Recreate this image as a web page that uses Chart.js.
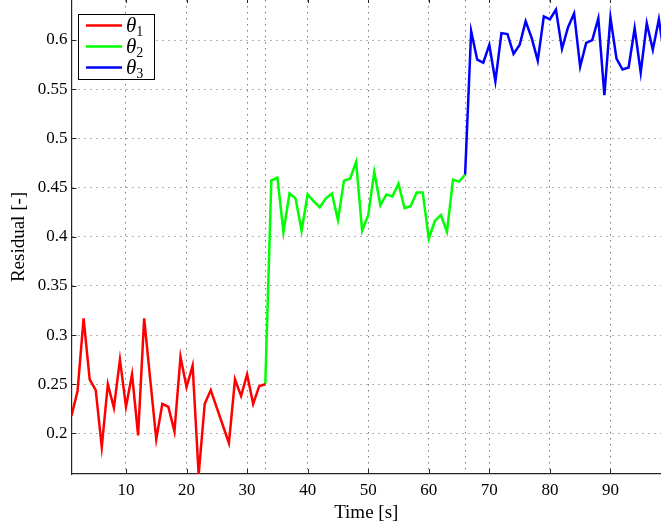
<!DOCTYPE html>
<html>
<head>
<meta charset="utf-8">
<script src="https://cdn.jsdelivr.net/npm/chart.js@4/dist/chart.umd.min.js"></script>
<style>
  html, body { margin: 0; padding: 0; background: #ffffff; }
  #wrap { width: 661px; height: 526px; }
</style>
</head>
<body>
<div id="wrap"><canvas id="c" width="661" height="526"></canvas></div>
<script>
// Residual of the three parameter phases, sampled once per second
const timeTheta1 = [1,2,3,4,5,6,7,8,9,10,11,12,13,14,15,16,17,18,19,20,21,22,23,24,25,26,27,28,29,30,31,32,33];
const residualTheta1 = [0.218,0.243,0.317,0.255,0.244,0.186,0.250,0.226,0.275,0.227,0.260,0.198,0.317,0.255,0.194,0.230,0.227,0.202,0.278,0.247,0.269,0.158,0.230,0.244,0.226,0.208,0.190,0.255,0.238,0.260,0.230,0.248,0.250];

const timeTheta2 = [33,34,35,36,37,38,39,40,41,42,43,44,45,46,47,48,49,50,51,52,53,54,55,56,57,58,59,60,61,62,63,64,65,66];
const residualTheta2 = [0.250,0.457,0.460,0.405,0.444,0.439,0.406,0.443,0.436,0.430,0.439,0.444,0.417,0.457,0.459,0.476,0.406,0.422,0.466,0.432,0.443,0.441,0.454,0.429,0.431,0.445,0.445,0.398,0.416,0.422,0.405,0.458,0.456,0.463];

const timeTheta3 = [66,67,68,69,70,71,72,73,74,75,76,77,78,79,80,81,82,83,84,85,86,87,88,89,90,91,92,93,94,95,96,97,98,99];
const residualTheta3 = [0.463,0.609,0.580,0.577,0.595,0.558,0.607,0.606,0.586,0.595,0.619,0.602,0.579,0.624,0.621,0.631,0.591,0.613,0.627,0.573,0.597,0.600,0.622,0.544,0.623,0.581,0.570,0.572,0.612,0.567,0.617,0.590,0.621,0.580];

const seriesSymbol = 'θ';
const seriesIndex = ['1', '2', '3'];

const xTickValues = [10, 20, 30, 40, 50, 60, 70, 80, 90];
const switchTimes = [33, 66];
const yTickValues = [0.2, 0.25, 0.3, 0.35, 0.4, 0.45, 0.5, 0.55, 0.6];

const SERIF = '"Liberation Serif", "Times New Roman", serif';
const colors = ['#ff0000', '#00ff00', '#0000ff'];

function pts(t, v) { return t.map((x, i) => ({ x: x, y: v[i] })); }

// Inward tick marks in the MATLAB style
const innerTicks = {
  id: 'innerTicks',
  afterDraw(chart) {
    const { ctx, chartArea: a, scales } = chart;
    ctx.save();
    ctx.strokeStyle = '#262626';
    ctx.lineWidth = 1;
    ctx.beginPath();
    yTickValues.forEach(v => {
      const y = Math.round(scales.y.getPixelForValue(v)) + 0.5;
      ctx.moveTo(a.left, y); ctx.lineTo(a.left + 5, y);
    });
    xTickValues.forEach(v => {
      const x = Math.round(scales.x.getPixelForValue(v)) + 0.5;
      ctx.moveTo(x, a.bottom); ctx.lineTo(x, a.bottom - 5);
      ctx.moveTo(x, a.top); ctx.lineTo(x, a.top + 3);
    });
    ctx.stroke();
    ctx.restore();
  }
};

// Boxed legend with subscripted symbols
const boxLegend = {
  id: 'boxLegend',
  afterDraw(chart) {
    const { ctx } = chart;
    const bx = 78, by = 14, bw = 76, bh = 65;
    ctx.save();
    ctx.fillStyle = '#ffffff';
    ctx.fillRect(bx, by, bw, bh);
    ctx.strokeStyle = '#000000';
    ctx.lineWidth = 1;
    ctx.strokeRect(bx + 0.5, by + 0.5, bw, bh);
    chart.data.datasets.forEach((ds, i) => {
      const y = by + 11.5 + i * 21;
      ctx.strokeStyle = ds.borderColor;
      ctx.lineWidth = 2.5;
      ctx.beginPath();
      ctx.moveTo(86, y); ctx.lineTo(122, y);
      ctx.stroke();
      ctx.fillStyle = '#000000';
      ctx.textBaseline = 'alphabetic';
      ctx.textAlign = 'left';
      ctx.font = 'italic 21px ' + SERIF;
      ctx.fillText(seriesSymbol, 126, y + 6);
      const w = ctx.measureText(seriesSymbol).width;
      ctx.font = '14px ' + SERIF;
      ctx.fillText(seriesIndex[i], 126 + w, y + 10);
    });
    ctx.restore();
  }
};

new Chart(document.getElementById('c'), {
  type: 'line',
  data: {
    datasets: [
      { label: 'θ₁', data: pts(timeTheta1, residualTheta1), borderColor: colors[0] },
      { label: 'θ₂', data: pts(timeTheta2, residualTheta2), borderColor: colors[1] },
      { label: 'θ₃', data: pts(timeTheta3, residualTheta3), borderColor: colors[2] }
    ].map(d => Object.assign(d, { borderWidth: 2.5, pointRadius: 0, tension: 0, fill: false }))
  },
  options: {
    responsive: false,
    animation: false,
    devicePixelRatio: 1,
    layout: { padding: 0 },
    plugins: { legend: { display: false }, tooltip: { enabled: false } },
    scales: {
      x: {
        type: 'linear',
        min: 1,
        max: 98.35,
        afterBuildTicks(scale) {
          scale.ticks = xTickValues.concat(switchTimes).map(v => ({ value: v }));
        },
        afterFit(scale) {
          scale.height = 52;
          scale.paddingLeft = 0; scale.paddingRight = 0;
        },
        ticks: {
          autoSkip: false,
          maxRotation: 0,
          padding: 6,
          color: '#000000',
          font: { family: SERIF, size: 17 },
          callback: v => (switchTimes.includes(v) ? '' : String(v))
        },
        grid: { color: '#7a7a7a', lineWidth: 1, drawTicks: false },
        border: { display: true, color: '#262626', width: 1.2, dash: [1.5, 4.5] },
        title: { display: true, text: 'Time [s]', color: '#000000', font: { family: SERIF, size: 19 }, padding: { top: 0, bottom: 2 } }
      },
      y: {
        type: 'linear',
        min: 0.1587,
        max: 0.6407,
        afterBuildTicks(scale) {
          scale.ticks = yTickValues.map(v => ({ value: v }));
        },
        afterFit(scale) {
          scale.width = 71.5;
          scale.paddingTop = 0; scale.paddingBottom = 0;
        },
        ticks: {
          autoSkip: false,
          padding: 4,
          color: '#000000',
          font: { family: SERIF, size: 17 },
          callback: v => String(+v.toFixed(2))
        },
        grid: { color: '#9a9a9a', lineWidth: 1, drawTicks: false },
        border: { display: true, color: '#262626', width: 1.2, dash: [1.5, 4.5] },
        title: { display: true, text: 'Residual [-]', color: '#000000', font: { family: SERIF, size: 19 }, padding: { top: 8, bottom: 0 } }
      }
    }
  },
  plugins: [innerTicks, boxLegend]
});
</script>
</body>
</html>
